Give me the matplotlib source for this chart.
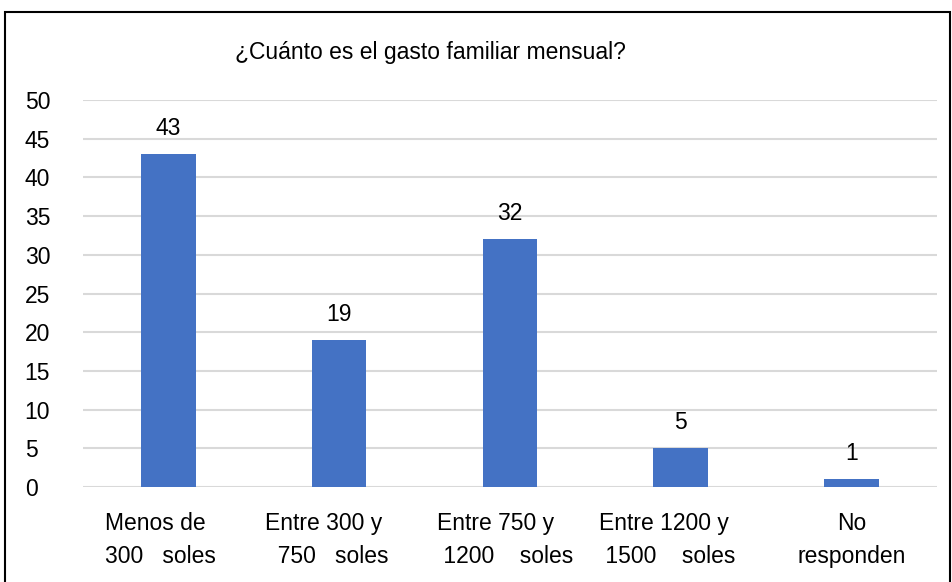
import matplotlib
matplotlib.use("Agg")
import matplotlib.pyplot as plt
from matplotlib.patches import Rectangle
from matplotlib.transforms import ScaledTranslation
from matplotlib import font_manager

categories = ["Menos de\n300   soles", "Entre 300 y\n  750   soles", "Entre 750 y\n 1200    soles",
              "Entre 1200 y\n 1500    soles", "No\nresponden"]
values = [43, 19, 32, 5, 1]
yticks = [0, 5, 10, 15, 20, 25, 30, 35, 40, 45, 50]
title = "¿Cuánto es el gasto familiar mensual?"

names = {f.name for f in font_manager.fontManager.ttflist}
fam = "Liberation Sans Narrow" if "Liberation Sans Narrow" in names else "Liberation Sans"
plt.rcParams["font.family"] = [fam, "DejaVu Sans"]

fig = plt.figure(figsize=(9.53, 5.82), dpi=100)
ax = fig.add_axes([0.0871, 0.1632, 0.896, 0.665])

x = range(len(values))
bars = ax.bar(x, values, width=0.32, color="#4472C4", zorder=3)
for b, v in zip(bars, values):
    ax.text(b.get_x() + b.get_width() / 2, v + 1.8, str(v), ha="center", va="bottom",
            fontsize=16.5, color="#000000")

ax.set_xlim(-0.5, len(values) - 0.5)
ax.set_ylim(0, 50)
ax.set_yticks(yticks)
ax.set_yticklabels([str(t) for t in yticks], fontsize=16.5)
ax.set_xticks(list(x))
ax.set_xticklabels(categories, fontsize=16.5, linespacing=1.55)
ax.tick_params(axis="both", length=0)
ax.tick_params(axis="x", pad=18)
for lab in ax.get_yticklabels():
    lab.set_horizontalalignment("left")
ax.yaxis.set_tick_params(pad=42)

# excel puts the wrapped labels a bit to the left of the category centre
shifts = [-63, -74, -73, -82]
for lab, sh in zip(ax.get_xticklabels()[:4], shifts):
    lab.set_horizontalalignment("left")
    lab.set_multialignment("left")
    lab.set_transform(lab.get_transform() + ScaledTranslation(sh / 100, 0, fig.dpi_scale_trans))

ax.grid(axis="y", color="#D9D9D9", linewidth=1.5, zorder=0)
for s in ax.spines.values():
    s.set_visible(False)

fig.text(0.452, 0.91, title, ha="center", va="center", fontsize=16.5)

fig.patches.append(Rectangle((0.005, -0.02), 0.992, 0.999, transform=fig.transFigure,
                             fill=False, edgecolor="black", linewidth=1.5))

fig.savefig("out.png", dpi=100)
